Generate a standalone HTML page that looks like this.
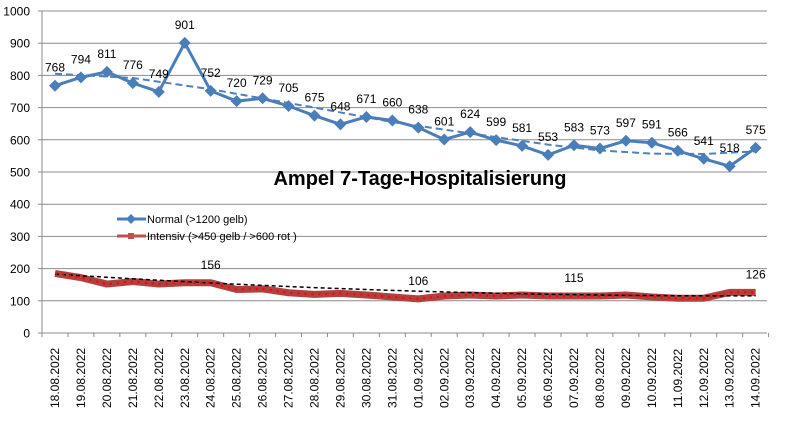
<!DOCTYPE html>
<html><head><meta charset="utf-8"><style>
html,body{margin:0;padding:0;background:#fff;}
svg{display:block;font-family:"Liberation Sans",Calibri,sans-serif;}
</style></head><body>
<svg id="c" width="788" height="426" xmlns="http://www.w3.org/2000/svg"></svg>
<script>
var s='';
function Y(v){return 333-v*0.322;}
function X(i){return 55+i*25.95;}
for(var g=0;g<=10;g++){var y=Y(g*100);
 s+='<line x1="42" y1="'+y+'" x2="767" y2="'+y+'" stroke="#8c8c8c" stroke-width="1"/>';
 s+='<line x1="38" y1="'+y+'" x2="42" y2="'+y+'" stroke="#8c8c8c"/>';
 s+='<text x="30" y="'+(y+4.5)+'" font-size="12" text-anchor="end" fill="#000">'+(g*100)+'</text>';}
s+='<line x1="42" y1="11" x2="42" y2="337" stroke="#8c8c8c"/>';
var dates=[];
for(var d=18;d<=31;d++)dates.push(d+'.08.2022');
for(var d=1;d<=14;d++)dates.push((d<10?'0':'')+d+'.09.2022');
for(var i=0;i<=28;i++){var x=42+i*25.95;s+='<line x1="'+x+'" y1="333" x2="'+x+'" y2="337" stroke="#8c8c8c"/>';}
for(var i=0;i<28;i++){var x=X(i)+4;
 s+='<text transform="translate('+x+',408) rotate(-90)" font-size="12" fill="#000">'+dates[i]+'</text>';}
var n=[768,794,811,776,749,901,752,720,729,705,675,648,671,660,638,601,624,599,581,553,583,573,597,591,566,541,518,575];
var r=[185,172,152,160,152,156,156,135,137,125,120,123,118,112,106,115,118,115,118,115,115,115,118,112,108,108,126,126];
// trend via interpolation of control points
var cp=[[0,805],[3,792],[6,757],[10,700],[13,655],[16,620],[19,585],[21,567],[23,557],[25,556],[27,564]];
function tv(i){for(var k=0;k<cp.length-1;k++){if(i<=cp[k+1][0]){var a=cp[k],b=cp[k+1],f=(i-a[0])/(b[0]-a[0]);return a[1]+(b[1]-a[1])*f;}}return cp[cp.length-1][1];}
var t='';for(var i=0;i<=27;i+=0.5){t+=(i?'L':'M')+X(i)+' '+Y(tv(i));}
s+='<path d="'+t+'" fill="none" stroke="#4f81bd" stroke-width="2" stroke-dasharray="7,4"/>';
var p='';for(var i=0;i<28;i++)p+=(i?'L':'M')+X(i)+' '+Y(n[i]);
s+='<path d="'+p+'" fill="none" stroke="#4a7ebb" stroke-width="3"/>';
for(var i=0;i<28;i++){var x=X(i),y=Y(n[i]);
 s+='<polygon points="'+x+','+(y-6)+' '+(x+6)+','+y+' '+x+','+(y+6)+' '+(x-6)+','+y+'" fill="#4a7ebb"/>';
 s+='<text x="'+x+'" y="'+(y-14)+'" font-size="12" text-anchor="middle" fill="#000">'+n[i]+'</text>';}
var q='';for(var i=0;i<28;i++)q+=(i?'L':'M')+X(i)+' '+Y(r[i]);
s+='<path d="'+q+'" fill="none" stroke="#b0413e" stroke-width="7" stroke-linejoin="round"/>';
var t2='';for(var i=0;i<28;i++){var v=183-5.2*i+0.1*i*i; t2+=(i?'L':'M')+X(i)+' '+Y(v);}
s+='<path d="'+t2+'" fill="none" stroke="#000" stroke-width="1.5" stroke-dasharray="4,3"/>';
s+='<path d="'+q+'" fill="none" stroke="#ff0000" stroke-width="2" stroke-dasharray="2,5"/>';
[[6,156],[14,106],[20,115],[27,126]].forEach(function(a){s+='<text x="'+X(a[0])+'" y="'+(Y(a[1])-14)+'" font-size="12" text-anchor="middle" fill="#000">'+a[1]+'</text>';});
s+='<line x1="117" y1="219" x2="146" y2="219" stroke="#4a7ebb" stroke-width="3"/><polygon points="131,214 136,219 131,224 126,219" fill="#4a7ebb"/>';
s+='<text x="147" y="223" font-size="11" fill="#000">Normal (&gt;1200 gelb)</text>';
s+='<line x1="117" y1="236" x2="146" y2="236" stroke="#c0504d" stroke-width="3"/><rect x="128" y="233" width="6" height="6" fill="#c0504d"/>';
s+='<text x="147" y="240" font-size="11" fill="#000">Intensiv (&gt;450 gelb / &gt;600 rot )</text>';
s+='<text x="420" y="185" font-size="20" font-weight="bold" text-anchor="middle" fill="#000">Ampel 7-Tage-Hospitalisierung</text>';
document.getElementById('c').innerHTML=s;
</script>
</body></html>
